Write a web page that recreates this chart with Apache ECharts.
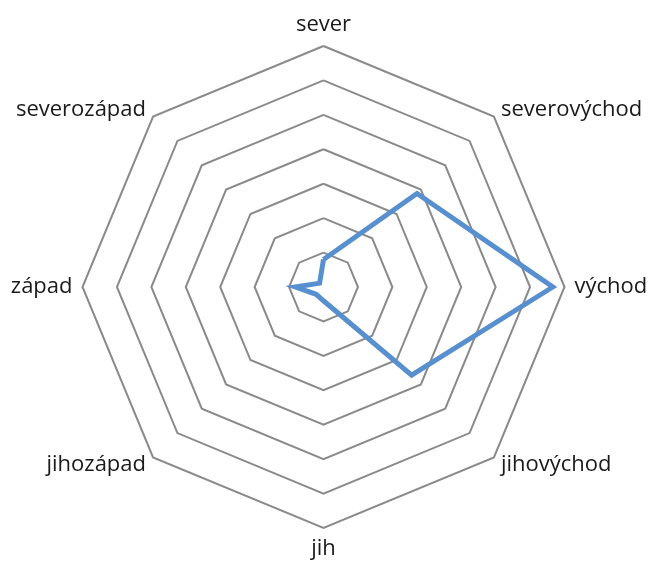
<!DOCTYPE html>
<html>
<head>
<meta charset="utf-8">
<script src="https://cdn.jsdelivr.net/npm/echarts@6/dist/echarts.min.js"></script>
<style>
  html, body { margin: 0; padding: 0; background: #fff; }
  #chart { width: 654px; height: 570px; }
</style>
</head>
<body>
<div id="chart"></div>
<script>
  // směry ve směru hodinových ručiček od severu
  var directions = ['sever', 'severovýchod', 'východ', 'jihovýchod', 'jih', 'jihozápad', 'západ', 'severozápad']
  var values = [4, 19.2, 33.3, 18.1, 2, 1.5, 4.1, 0.8]
  var axisMax = 35

  // echarts kreslí indikátory proti směru hodinových ručiček
  var order = [0, 7, 6, 5, 4, 3, 2, 1]
  var indicator = order.map(function (i) { return { name: directions[i], max: axisMax, min: 0 } })
  var seriesData = order.map(function (i) { return values[i] })

  var chart = echarts.init(document.getElementById('chart'))
  chart.setOption({
    animation: false,
    radar: {
      center: [323.5, 287],
      radius: 241,
      shape: 'polygon',
      splitNumber: 7,
      startAngle: 90,
      indicator: indicator,
      nameGap: 10,
      axisName: {
        color: '#1a1a1a',
        fontSize: 22,
        fontFamily: 'Open Sans'
      },
      axisLine: { show: false },
      axisTick: { show: false },
      axisLabel: { show: false },
      splitArea: { show: false },
      splitLine: {
        lineStyle: { color: '#8a8a8a', width: 2 }
      }
    },
    series: [{
      type: 'radar',
      symbol: 'none',
      lineStyle: { color: '#588fcf', width: 5, join: 'miter' },
      data: [{ value: seriesData }]
    }]
  })
</script>
</body>
</html>
